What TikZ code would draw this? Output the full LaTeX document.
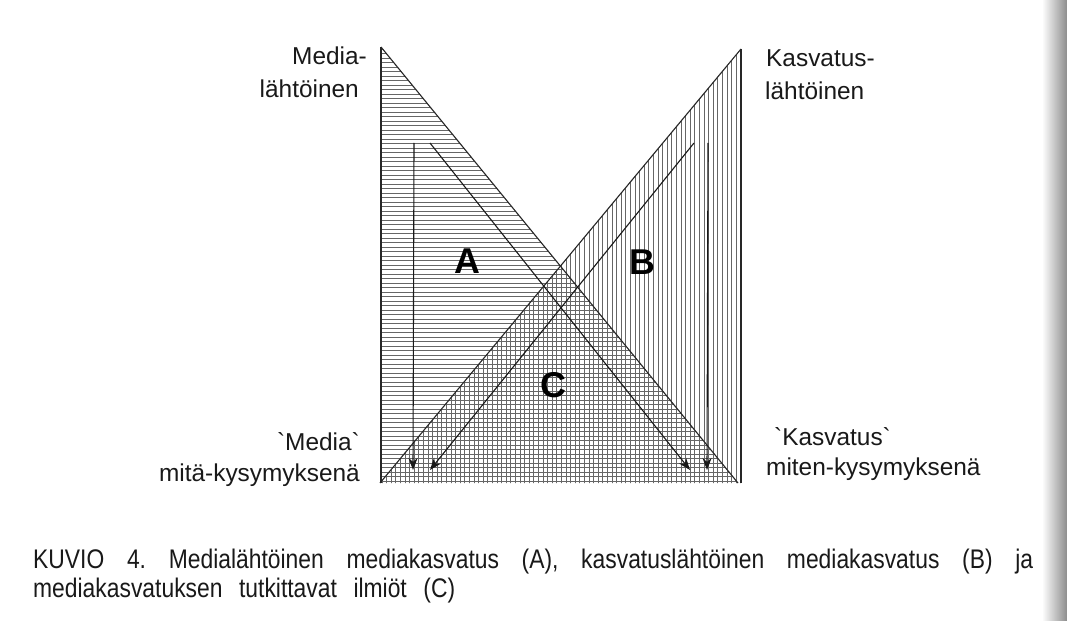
\documentclass[tikz,border=0pt]{standalone}
\usepackage{fontspec}
\setmainfont{Liberation Sans}
\newfontfamily\lab{Liberation Sans}
\newfontfamily\capf{Liberation Sans}[FakeStretch=0.85]
\usetikzlibrary{arrows.meta}
\tikzset{
  hatch/.style={draw=black!60, line width=0.65bp},
  edgeline/.style={draw=black!85, line width=1.1bp},
  arr/.style={draw=black!90, line width=1.1bp, -{Stealth[length=12bp,width=9bp]}},
  lab/.style={font=\lab\fontsize{24.5}{30}\selectfont, inner sep=0pt, text=black!90},
  big/.style={font=\lab\bfseries\fontsize{36}{40}\selectfont, inner sep=0pt, text=black},
  capt/.style={font=\capf\fontsize{27}{32}\selectfont\frenchspacing, inner sep=0pt, text=black!90, anchor=base west}
}
\begin{document}
\begin{tikzpicture}[x=1bp,y=-1bp]
\useasboundingbox (0,0) rectangle (1067,621);
\fill[white] (0,0) rectangle (1067,621);
\shade[left color=white, right color=black!45] (1042,0) rectangle (1067,621);
% triangle corners
\coordinate (At) at (381,47);
\coordinate (Al) at (381,483);
\coordinate (Ar) at (738,483);
\coordinate (Bt) at (741,49);
\coordinate (Br) at (741,483);
\coordinate (Bl) at (380,483);
% hatching A (horizontal)
\begin{scope}
  \clip (At) -- (Al) -- (Ar) -- cycle;
  \foreach \y in {49,53.5,...,484} \draw[hatch] (375,\y) -- (745,\y);
\end{scope}
% hatching B (vertical)
\begin{scope}
  \clip (Bt) -- (Br) -- (Bl) -- cycle;
  \foreach \x in {382,386.6,...,742} \draw[hatch] (\x,40) -- (\x,490);
\end{scope}
% outlines
\draw[edgeline] (At) -- (Al);
\draw[edgeline] (At) -- (Ar);
\draw[edgeline] (Bt) -- (Br);
\draw[edgeline] (Bt) -- (Bl);
% arrows
\coordinate (s1) at (414,143); \coordinate (e1) at (413,470);
\coordinate (s2) at (430,143); \coordinate (e2) at (690,470);
\coordinate (s3) at (694,143); \coordinate (e3) at (430,470);
\coordinate (s4) at (708,143); \coordinate (e4) at (707,470);
\draw[arr] (s1) -- (e1);
\draw[arr] (s2) -- (e2);
\draw[arr] (s3) -- (e3);
\draw[arr] (s4) -- (e4);
% region letters
\node[big] (A) at (467,261) {A};
\node[big] (B) at (642,262) {B};
\node[big] (C) at (553,385) {C};
% labels
\node[lab, anchor=base east] (m1) at (367,65) {Media-};
\node[lab, anchor=base east] (m2) at (359,98) {lähtöinen};
\node[lab, anchor=base west] (k1) at (766,67) {Kasvatus-};
\node[lab, anchor=base west] (k2) at (765,100) {lähtöinen};
\node[lab, anchor=base east] (q1) at (360,450) {`Media`};
\node[lab, anchor=base east] (q2) at (360,481) {mitä-kysymyksenä};
\node[lab, anchor=base west] (r1) at (774,445) {`Kasvatus`};
\node[lab, anchor=base west] (r2) at (766,475) {miten-kysymyksenä};
% caption
\node[capt] (c1) at (33,568) {\makebox[1000bp][s]{KUVIO 4. Medialähtöinen mediakasvatus (A), kasvatuslähtöinen mediakasvatus (B) ja}};
\node[capt] (c2) at (33,597) {\makebox[422bp][s]{mediakasvatuksen tutkittavat ilmiöt (C)}};
\end{tikzpicture}
\end{document}
